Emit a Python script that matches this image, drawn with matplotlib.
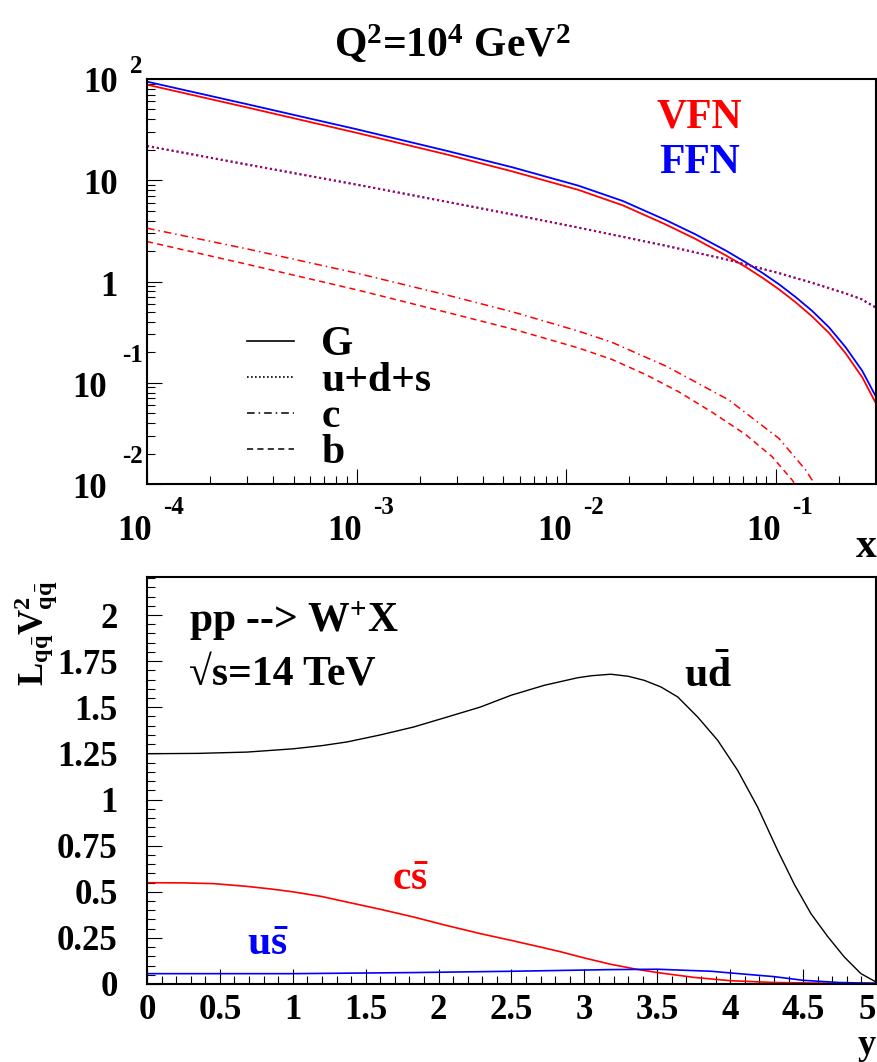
import matplotlib
matplotlib.use('Agg')
import matplotlib.pyplot as plt
from matplotlib.ticker import LogLocator, MultipleLocator, NullFormatter, FixedLocator, FixedFormatter
from matplotlib.lines import Line2D

plt.rcParams['font.family'] = ['Liberation Serif', 'DejaVu Serif']
plt.rcParams['font.weight'] = 'bold'
plt.rcParams['mathtext.fontset'] = 'custom'
plt.rcParams['mathtext.rm'] = 'Liberation Serif:bold'
plt.rcParams['mathtext.it'] = 'Liberation Serif:bold'
plt.rcParams['mathtext.bf'] = 'Liberation Serif:bold'

# ---------------- data: top panel (x * PDF at Q^2 = 10^4 GeV^2) ----------------
x_g = [1e-4, 3.0e-4, 1e-3, 2.71e-3, 5.55e-3, 0.0114, 0.0186, 0.0297, 0.0412, 0.0574,
       0.0714, 0.0859, 0.1033, 0.124, 0.149, 0.179, 0.215, 0.258, 0.30]
g_vfn = [87.9, 52.4, 29.4, 17.9, 12.2, 8.04, 5.65, 3.67, 2.64, 1.82,
         1.40, 1.094, 0.838, 0.624, 0.450, 0.310, 0.195, 0.113, 0.0624]
g_ffn = [94.2, 56.4, 31.9, 19.45, 13.4, 8.85, 6.24, 4.06, 2.93, 2.03,
         1.556, 1.222, 0.940, 0.703, 0.511, 0.353, 0.224, 0.131, 0.0726]

x_uds = [1e-4, 3.0e-4, 1e-3, 2.71e-3, 5.55e-3, 0.0114, 0.0297, 0.0574, 0.1033,
         0.149, 0.215, 0.255, 0.30]
uds = [21.8, 14.3, 9.06, 6.11, 4.59, 3.41, 2.26, 1.66, 1.21,
       0.970, 0.762, 0.671, 0.552]

x_c = [1e-4, 3.0e-4, 1e-3, 2.71e-3, 5.55e-3, 0.0114, 0.0165, 0.0302, 0.0596,
       0.1033, 0.1384, 0.1585]
c_vfn = [3.36, 2.10, 1.21, 0.733, 0.501, 0.324, 0.251, 0.1445, 0.0676,
         0.0282, 0.0138, 0.0089]

x_b = [1e-4, 3.0e-4, 1e-3, 2.71e-3, 5.55e-3, 0.0114, 0.0165, 0.024, 0.0344,
       0.0495, 0.0715, 0.0959, 0.1194, 0.138]
b_vfn = [2.48, 1.48, 0.828, 0.494, 0.339, 0.221, 0.170, 0.120, 0.0813,
         0.0513, 0.0309, 0.0186, 0.01096, 0.00708]

top_xticks = [1e-4, 1e-3, 1e-2, 1e-1]
top_xtick_exp = ['-4', '-3', '-2', '-1']
top_yticks = [1e-2, 1e-1, 1, 10, 100]
top_ytick_base = ['10', '10', '1', '10', '10']
top_ytick_exp = ['-2', '-1', '', '', '2']

# ---------------- data: bottom panel (luminosity x CKM^2 vs rapidity) ----------------
y_ud = [0.0, 0.35, 0.686, 1.006, 1.2, 1.372, 1.6, 1.829, 2.05, 2.286, 2.497, 2.725,
        2.954, 3.05, 3.182, 3.3, 3.41, 3.525, 3.64, 3.777, 3.914, 4.051, 4.188, 4.325,
        4.44, 4.554, 4.668, 4.783, 4.897, 5.0]
lum_ud = [1.248, 1.250, 1.257, 1.275, 1.292, 1.312, 1.350, 1.393, 1.445, 1.501, 1.565,
          1.619, 1.660, 1.671, 1.679, 1.668, 1.646, 1.610, 1.556, 1.447, 1.321, 1.158,
          0.959, 0.725, 0.540, 0.381, 0.258, 0.146, 0.056, 0.011]

y_cs = [0.0, 0.25, 0.457, 0.686, 0.85, 1.006, 1.2, 1.372, 1.6, 1.829, 2.05, 2.286,
        2.5, 2.7, 2.84, 3.0, 3.18, 3.35, 3.5, 3.75, 4.0, 4.3, 4.7, 5.0]
lum_cs = [0.549, 0.548, 0.544, 0.529, 0.515, 0.499, 0.474, 0.444, 0.405, 0.363, 0.318,
          0.273, 0.236, 0.200, 0.174, 0.141, 0.107, 0.081, 0.062, 0.036, 0.018, 0.008,
          0.004, 0.003]

y_us = [0.0, 1.0, 1.83, 2.5, 3.18, 3.5, 3.87, 4.0, 4.3, 4.5, 4.75, 5.0]
lum_us = [0.056, 0.056, 0.062, 0.069, 0.078, 0.080, 0.069, 0.060, 0.040, 0.020, 0.008, 0.004]

bot_xticks = [0, 0.5, 1, 1.5, 2, 2.5, 3, 3.5, 4, 4.5, 5]
bot_xticklabels = ['0', '0.5', '1', '1.5', '2', '2.5', '3', '3.5', '4', '4.5', '5']
bot_yticks = [0, 0.25, 0.5, 0.75, 1, 1.25, 1.5, 1.75, 2]
bot_yticklabels = ['0', '0.25', '0.5', '0.75', '1', '1.25', '1.5', '1.75', '2']

RED = '#ff0000'
BLUE = '#0000ff'
TICK_FS = 25
EXP_FS = 18
BIG_FS = 30

W, H = 878, 1062
fig = plt.figure(figsize=(W / 100, H / 100), dpi=100)
ax1 = fig.add_axes([147 / W, (H - 484) / H, 729 / W, 405 / H])
ax2 = fig.add_axes([147 / W, (H - 984) / H, 729 / W, 407 / H])

for ax in (ax1, ax2):
    for s in ax.spines.values():
        s.set_linewidth(1.5)
    ax.tick_params(which='both', direction='in', top=False, right=False, width=0.8,
                   color='black')
    ax.tick_params(which='major', length=11)
    ax.tick_params(which='minor', length=5.5)

# ---------------- top panel ----------------
ax1.set_xscale('log')
ax1.set_yscale('log')
ax1.plot(x_g, g_ffn, color=BLUE, lw=1.3)
ax1.plot(x_g, g_vfn, color=RED, lw=1.3)
ax1.plot(x_uds, uds, color=BLUE, lw=1.5, ls=(0, (1, 1.4)))
ax1.plot(x_uds, uds, color=RED, lw=1.5, ls=(0, (1, 1.4)), alpha=0.68)
ax1.plot(x_c, c_vfn, color=RED, lw=1.1, ls=(0, (5, 2.6, 1, 2.6)))
ax1.plot(x_b, b_vfn, color=RED, lw=1.1, ls=(0, (4, 2.8)))
ax1.set_xlim(1e-4, 0.3)
ax1.set_ylim(1e-2, 100)
ax1.xaxis.set_major_locator(FixedLocator(top_xticks))
ax1.xaxis.set_minor_locator(LogLocator(base=10, subs=range(2, 10), numticks=20))
ax1.yaxis.set_major_locator(FixedLocator(top_yticks))
ax1.yaxis.set_minor_locator(LogLocator(base=10, subs=range(2, 10), numticks=20))
ax1.xaxis.set_minor_formatter(NullFormatter())
ax1.yaxis.set_minor_formatter(NullFormatter())
ax1.tick_params(labelbottom=False, labelleft=False)


def put(ax, text, xy, trans, dx, dy, size, ha, va='baseline'):
    ax.annotate(text, xy=xy, xycoords=trans, xytext=(dx, dy), textcoords='offset pixels',
                ha=ha, va=va, fontsize=size, fontweight='bold', annotation_clip=False)


# x tick labels (ROOT-like 10 with raised exponent)
for xv, ex in zip(top_xticks, top_xtick_exp):
    put(ax1, '10', (xv, 0), ax1.get_xaxis_transform(), -12, -56, TICK_FS, 'center')
    put(ax1, ex, (xv, 0), ax1.get_xaxis_transform(), 27, -30, EXP_FS, 'center')

# y tick labels
for yv, base, ex in zip(top_yticks, top_ytick_base, top_ytick_exp):
    if ex == '':
        put(ax1, base, (0, yv), ax1.get_yaxis_transform(), -29, -14, TICK_FS, 'right')
    elif ex.startswith('-'):
        put(ax1, base, (0, yv), ax1.get_yaxis_transform(), -40, -14, TICK_FS, 'right')
        put(ax1, ex, (0, yv), ax1.get_yaxis_transform(), -4, 21, EXP_FS, 'right')
    else:
        put(ax1, base, (0, yv), ax1.get_yaxis_transform(), -29, -13, TICK_FS, 'right')
        put(ax1, ex, (0, yv), ax1.get_yaxis_transform(), -4, 6, EXP_FS, 'right')

ax1.text((699.5 - 147) / 729, (484 - 127) / 405, 'VFN', color=RED, fontsize=BIG_FS,
         ha='center', va='baseline', transform=ax1.transAxes)
ax1.text((699.5 - 147) / 729, (484 - 173) / 405, 'FFN', color=BLUE, fontsize=BIG_FS,
         ha='center', va='baseline', transform=ax1.transAxes)

handles = [Line2D([], [], color='black', lw=1.2),
           Line2D([], [], color='black', lw=1.2, ls=(0, (1, 1.4))),
           Line2D([], [], color='black', lw=1.1, ls=(0, (5, 2.6, 1, 2.6))),
           Line2D([], [], color='black', lw=1.1, ls=(0, (4, 2.8)))]
ax1.legend(handles, ['G', 'u+d+s', 'c', 'b'], loc='upper left',
           bbox_to_anchor=((247 - 147) / 729, (484 - 326) / 405), frameon=False,
           fontsize=BIG_FS, handlelength=1.13, handletextpad=0.65, labelspacing=-0.05,
           borderpad=0, borderaxespad=0)

fig.text(452 / W, (H - 57) / H, r'Q$^{2}$=10$^{4}$ GeV$^{2}$', fontsize=BIG_FS,
         ha='center', va='baseline')
fig.text(877 / W, (H - 557) / H, 'x', fontsize=BIG_FS, ha='right', va='baseline')

# ---------------- bottom panel ----------------
ax2.plot(y_ud, lum_ud, color='black', lw=1.0)
ax2.plot(y_cs, lum_cs, color=RED, lw=1.2)
ax2.plot(y_us, lum_us, color=BLUE, lw=1.2)
ax2.set_xlim(0, 5)
ax2.set_ylim(0, 2.206)
ax2.xaxis.set_major_locator(FixedLocator(bot_xticks))
ax2.xaxis.set_major_formatter(FixedFormatter(bot_xticklabels))
ax2.xaxis.set_minor_locator(MultipleLocator(0.1))
ax2.yaxis.set_major_locator(FixedLocator(bot_yticks))
ax2.yaxis.set_major_formatter(FixedFormatter(bot_yticklabels))
ax2.yaxis.set_minor_locator(MultipleLocator(0.05))
ax2.tick_params(axis='x', which='major', pad=7, labelsize=TICK_FS)
ax2.tick_params(axis='y', which='major', pad=21, labelsize=TICK_FS)
for lab in ax2.get_xticklabels() + ax2.get_yticklabels():
    lab.set_fontweight('bold')
# last x label sits flush with the right figure edge
ax2.xaxis.get_major_ticks()[-1].label1.set_horizontalalignment('right')
ax2.xaxis.get_major_ticks()[-1].label1.set_x(5)

ax2.text((189 - 147) / 729, (984 - 632) / 407, r'pp --> W$^{+}$X', fontsize=BIG_FS,
         ha='left', va='baseline', transform=ax2.transAxes)
ax2.text((189 - 147) / 729, (984 - 686) / 407, '\u221As=14 TeV', fontsize=BIG_FS,
         ha='left', va='baseline', transform=ax2.transAxes)
ax2.text((684 - 147) / 729, (984 - 687) / 407, r'u$\bar{d}$', fontsize=BIG_FS,
         ha='left', va='baseline', transform=ax2.transAxes, color='black')
ax2.text((392 - 147) / 729, (984 - 890) / 407, r'c$\bar{s}$', fontsize=BIG_FS,
         ha='left', va='baseline', transform=ax2.transAxes, color=RED)
ax2.text((247 - 147) / 729, (984 - 955) / 407, r'u$\bar{s}$', fontsize=BIG_FS,
         ha='left', va='baseline', transform=ax2.transAxes, color=BLUE)

fig.text(36 / W, (H - 580) / H, r'L$_{q\bar{q}}$V$^{2}_{q\bar{q}}$', fontsize=TICK_FS,
         rotation=90, ha='center', va='top')
fig.text(876 / W, 0.0, 'y', fontsize=26, ha='right', va='bottom')

fig.savefig('out.png', dpi=100)
